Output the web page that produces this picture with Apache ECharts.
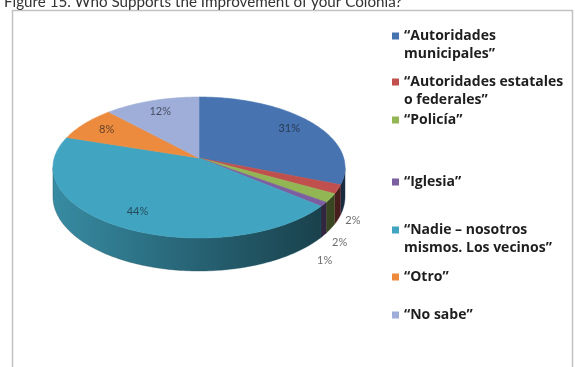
<!DOCTYPE html>
<html>
<head>
<meta charset="utf-8">
<script src="https://cdn.jsdelivr.net/npm/echarts@6/dist/echarts.min.js"></script>
<style>
  html, body { margin: 0; padding: 0; background: #ffffff; }
  #chart { width: 575px; height: 367px; }
</style>
</head>
<body>
<div id="chart"></div>
<script>
// Survey answers and their shares (percent)
const categories = [
  '“Autoridades\nmunicipales”',
  '“Autoridades estatales\no federales”',
  '“Policía”',
  '“Iglesia”',
  '“Nadie – nosotros\nmismos. Los vecinos”',
  '“Otro”',
  '“No sabe”'
];
const shares = [31, 2, 2, 1, 44, 8, 12];

// Office-style palette
const colors = ['#4774b0', '#c0504d', '#93b655', '#7c5fa0', '#41a5c1', '#ec8b3e', '#9eaed8'];

// 3D pie geometry: centre of the top face, horizontal radius,
// apparent far/near radii (perspective) and wall height
const pie = { cx: 199, cy: 158, rx: 144.7, far: 61, near: 80, depth: 33 };
const persp = (pie.far - pie.near) / (pie.far + pie.near);
const kY = pie.near * (1 + persp);
const silhouetteA = Math.acos(persp);
const silhouetteB = 2 * Math.PI - silhouetteA;

// first-line centres of each legend entry
const legendLineCentres = [36, 82, 120, 182, 230, 277, 315];
const legendLineHeight = 18;

// nudges for the labels of the thin slices, placed outside the pie
const outsideLabelNudge = [[15, 1], [9, 14], [1, 25]];

const total = shares.reduce((a, b) => a + b, 0);

function project(theta, f) {
  const u = f * Math.sin(theta);
  const v = -f * Math.cos(theta);
  const w = 1 + persp * v;
  return [pie.cx + pie.rx * u / w, pie.cy + kY * v / w];
}
function wallDepth(theta) {
  const v = -Math.cos(theta);
  return pie.depth * (1 + persp) / (1 + persp * v);
}
function arc(t0, t1) {
  const n = Math.max(2, Math.ceil((t1 - t0) / (Math.PI / 180)));
  const pts = [];
  for (let k = 0; k <= n; k++) {
    pts.push(t0 + (t1 - t0) * k / n);
  }
  return pts;
}
function shade(hex, f) {
  const n = parseInt(hex.slice(1), 16);
  const r = Math.round(((n >> 16) & 255) * f);
  const g = Math.round(((n >> 8) & 255) * f);
  const b = Math.round((n & 255) * f);
  return 'rgb(' + r + ',' + g + ',' + b + ')';
}

function renderSlice(i) {
  return function (params, api) {
    const before = shares.slice(0, i).reduce((a, b) => a + b, 0);
    const value = api.value(0);
    const t0 = before / total * 2 * Math.PI;
    const t1 = (before + value) / total * 2 * Math.PI;
    const base = colors[i];
    const children = [];

    // outer wall, visible front half only
    const a = Math.max(t0, silhouetteA), b = Math.min(t1, silhouetteB);
    if (b > a) {
      const ts = arc(a, b);
      const topPts = ts.map(t => project(t, 1));
      const botPts = ts.map(t => { const p = project(t, 1); return [p[0], p[1] + wallDepth(t)]; }).reverse();
      children.push({
        type: 'polygon',
        z2: 10,
        shape: { points: topPts.concat(botPts) },
        style: {
          fill: {
            type: 'linear', global: true,
            x: pie.cx - pie.rx, y: 0, x2: pie.cx + pie.rx, y2: 0,
            colorStops: [
              { offset: 0, color: shade(base, 0.84) },
              { offset: 0.45, color: shade(base, 0.62) },
              { offset: 1, color: shade(base, 0.36) }
            ]
          },
          stroke: shade(base, 0.5),
          lineWidth: 0.4
        }
      });
    }

    // top face
    const top = [[pie.cx, pie.cy]].concat(arc(t0, t1).map(t => project(t, 1)));
    children.push({
      type: 'polygon',
      z2: 50,
      shape: { points: top },
      style: { fill: base, stroke: base, lineWidth: 0.6 }
    });

    // percentage label
    const mid = (t0 + t1) / 2;
    let pos;
    if (value >= 5) {
      pos = project(mid, 0.8);
    } else {
      const smallIndex = shares.slice(0, i).filter(s => s < 5).length;
      const p = project(mid, 1);
      const nudge = outsideLabelNudge[smallIndex] || [0, 0];
      pos = [p[0] + nudge[0], p[1] + wallDepth(mid) + nudge[1]];
    }
    children.push({
      type: 'text',
      z2: 100,
      style: {
        text: value + '%',
        x: pos[0], y: pos[1],
        align: 'center', verticalAlign: 'middle',
        fontFamily: 'Lato', fontSize: 11,
        fill: value >= 5 ? 'rgba(25,25,35,0.66)' : '#6e6e6e'
      }
    });
    return { type: 'group', children: children };
  };
}

const chart = echarts.init(document.getElementById('chart'), null, { renderer: 'canvas' });

// one legend per entry; the marker sits on the first text line, so wrapped
// names get blank lines in front that balance the lines after the first
const legends = categories.map((name, i) => {
  const lines = name.split('\n').length;
  const blockLines = 2 * lines - 1;
  return {
    data: [name],
    left: 392,
    top: legendLineCentres[i] - blockLines * legendLineHeight / 2,
    orient: 'vertical',
    padding: 0,
    itemGap: 0,
    itemWidth: 7,
    itemHeight: 7,
    icon: 'rect',
    selectedMode: false,
    formatter: n => '\n'.repeat(lines - 1) + n,
    textStyle: {
      fontFamily: 'Open Sans',
      fontWeight: 'bold',
      fontSize: 14,
      color: '#1e1e1e',
      lineHeight: legendLineHeight
    }
  };
});

chart.setOption({
  animation: false,
  backgroundColor: '#ffffff',
  title: {
    text: 'Figure 15. Who Supports the Improvement of your Colonia?',
    left: 4,
    top: -5,
    padding: 0,
    textStyle: { fontFamily: 'Lato', fontWeight: 'normal', fontSize: 15.2, color: '#333333' }
  },
  graphic: [{
    type: 'rect',
    silent: true,
    z: -1,
    shape: { x: 12.5, y: 10.5, width: 560, height: 400 },
    style: { fill: 'none', stroke: '#c2c2c2', lineWidth: 1.5 }
  }],
  legend: legends,
  series: categories.map((name, i) => ({
    type: 'custom',
    name: name,
    coordinateSystem: 'none',
    data: [shares[i]],
    itemStyle: { color: colors[i] },
    renderItem: renderSlice(i)
  }))
});
</script>
</body>
</html>
